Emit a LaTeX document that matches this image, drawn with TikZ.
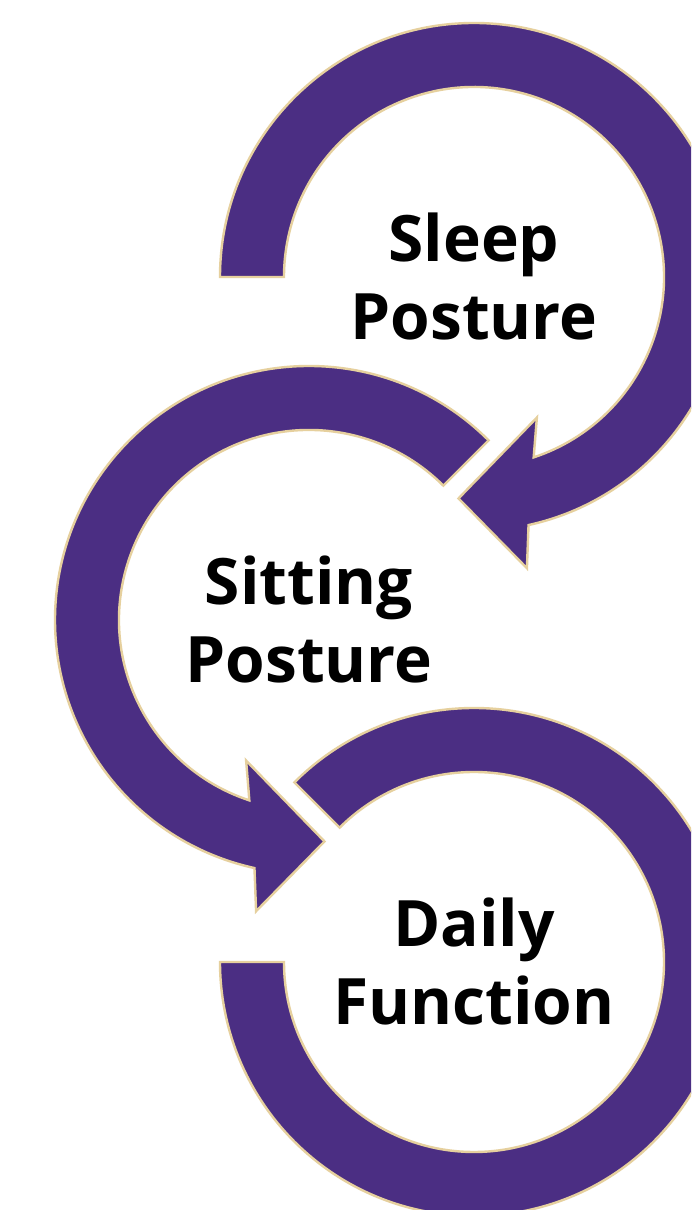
\documentclass[tikz,border=0pt]{standalone}
\usepackage{fontspec}
\setmainfont{Open Sans}
\usetikzlibrary{calc}
\definecolor{uwpurple}{HTML}{4B2E83}
\definecolor{uwtan}{HTML}{E6D09E}
\tikzset{
  ring/.style={fill=uwpurple, draw=uwtan, line width=1.2pt, line join=miter},
  label/.style={font=\bfseries\fontsize{32}{39}\selectfont, align=center, text=black, inner sep=0pt}
}
\begin{document}
\begin{tikzpicture}[x=0.5pt,y=0.5pt]
\useasboundingbox (0,0) rectangle (691,1210);
\clip (0,0) rectangle (691,1210);
\fill[white] (0,0) rectangle (691,1210);
\coordinate (c1) at (474,933);
\coordinate (c2) at (309,590);
\coordinate (c3) at (474,248);
% top arrow
\draw[ring] ($(c1)+(180:254)$) arc[start angle=180, end angle=-77.6, radius=254]
  -- ($(c1)+(-79.7:296)$) -- ($(c1)+(-94:222)$) -- ($(c1)+(-65.9:154)$)
  -- ($(c1)+(-71.7:190)$) arc[start angle=-71.7, end angle=180, radius=190] -- cycle;
% middle arrow
\draw[ring] ($(c2)+(45:254)$) arc[start angle=45, end angle=257.6, radius=254]
  -- ($(c2)+(259.7:296)$) -- ($(c2)+(274:222)$) -- ($(c2)+(245.9:154)$)
  -- ($(c2)+(251.7:190)$) arc[start angle=251.7, end angle=45, radius=190] -- cycle;
% bottom ring
\draw[ring] ($(c3)+(135:254)$) arc[start angle=135, end angle=-180, radius=254]
  -- ($(c3)+(180:190)$) arc[start angle=180, end angle=495, radius=190] -- cycle;
\node[label] (t1) at (c1) {Sleep\\Posture};
\node[label] (t2) at (c2) {Sitting\\Posture};
\node[label] (t3) at (c3) {Daily\\Function};
\end{tikzpicture}
\end{document}
